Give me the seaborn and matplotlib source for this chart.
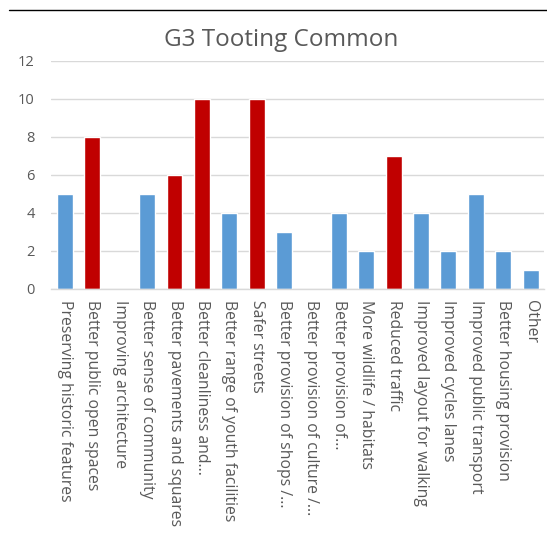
import matplotlib
matplotlib.use("Agg")
import matplotlib.pyplot as plt
import seaborn as sns
import pandas as pd
from matplotlib.lines import Line2D

# Data
categories = [
    "Preserving historic features",
    "Better public open spaces",
    "Improving architecture",
    "Better sense of community",
    "Better pavements and squares",
    "Better cleanliness and...",
    "Better range of youth facilities",
    "Safer streets",
    "Better provision of shops /...",
    "Better provision of culture /...",
    "Better provision of...",
    "More wildlife / habitats",
    "Reduced traffic",
    "Improved layout for walking",
    "Improved cycles lanes",
    "Improved public transport",
    "Better housing provision",
    "Other",
]
values = [5, 8, 0, 5, 6, 10, 4, 10, 3, 0, 4, 2, 7, 4, 2, 5, 2, 1]
highlight = [False, True, False, False, True, True, False, True, False,
             False, False, False, True, False, False, False, False, False]

blue = "#5B9BD5"
red = "#C00000"
text_grey = "#595959"

df = pd.DataFrame({"category": categories, "value": values})
palette = {c: (red if h else blue) for c, h in zip(categories, highlight)}

sns.set_style("white")
plt.rcParams["font.family"] = ["Open Sans", "DejaVu Sans"]

fig = plt.figure(figsize=(5.47, 5.40), dpi=100)
ax = fig.add_axes([51.3 / 547, 1 - 289 / 540, 493 / 547, 228 / 540])

sns.barplot(data=df, x="category", y="value", hue="category", palette=palette,
            legend=False, width=0.58, saturation=1, ax=ax)

ax.set_ylim(0, 12)
ax.set_yticks(range(0, 13, 2))
ax.set_xlim(-0.5, len(categories) - 0.5)
ax.yaxis.grid(True, color="#D9D9D9", linewidth=1)
ax.set_axisbelow(True)
for s in ["top", "right", "left"]:
    ax.spines[s].set_visible(False)
ax.spines["bottom"].set_color("#D9D9D9")
ax.spines["bottom"].set_linewidth(1)

ax.set_xlabel("")
ax.set_ylabel("")
ax.set_xticks(range(len(categories)))
ax.set_xticklabels(categories, rotation=270, fontsize=11.3, color=text_grey,
                   va="top", ha="center")
ax.tick_params(axis="x", length=0, pad=8)
ax.set_xticks([i - 0.5 for i in range(len(categories) + 1)], minor=True)
ax.tick_params(axis="x", which="minor", length=5, color="#D9D9D9", width=1)
ax.tick_params(axis="y", length=0, labelsize=10.5, labelcolor=text_grey, pad=12)

fig.text(281 / 547, 1 - 40 / 540, "G3 Tooting Common", fontsize=17.5,
         color=text_grey, ha="center", va="center")

fig.add_artist(Line2D([9 / 547, 1], [1 - 10 / 540, 1 - 10 / 540],
                      color="black", linewidth=1))

fig.savefig("out.png", dpi=100)
